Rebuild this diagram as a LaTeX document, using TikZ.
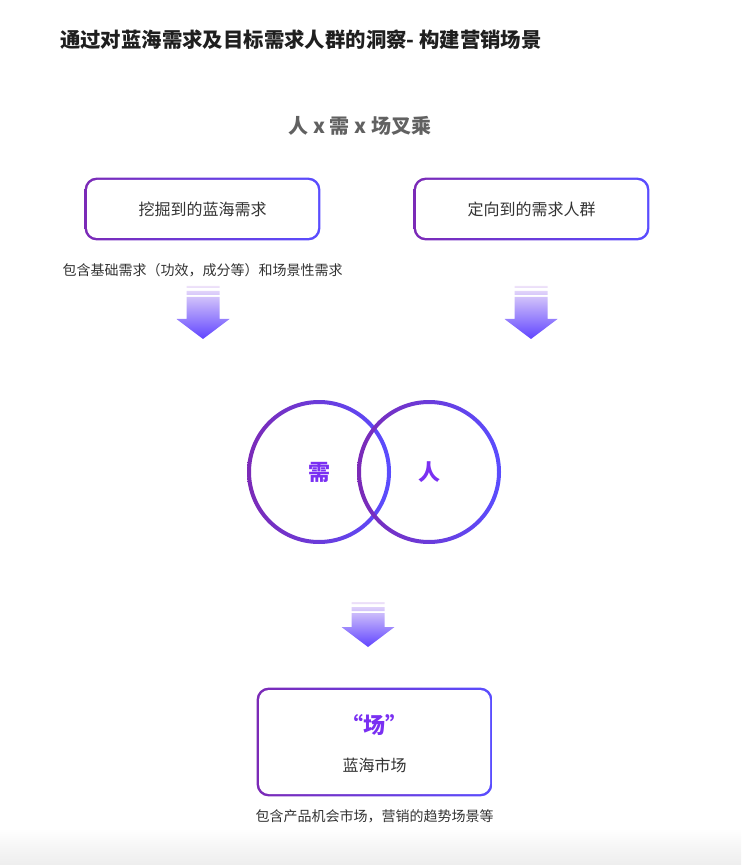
\documentclass[tikz,border=0pt]{standalone}
\usepackage{fontspec}
\setmainfont{Noto Sans CJK SC}
\usepackage{xcolor}
\usetikzlibrary{positioning,backgrounds,calc}

\definecolor{gpurple}{HTML}{7B2AB7}
\definecolor{gblue}{HTML}{5A4DFF}
\definecolor{vtext}{HTML}{7A30F2}
\definecolor{arrtop}{HTML}{EEE2F9}
\definecolor{arrbot}{HTML}{6044FF}

% block arrow: centre x, top y, head start y, tip y (pixels, downwards)
\newcommand{\dropblock}[4]{%
  \shade[top color=arrtop, bottom color=arrbot]
    (#1-16.5,-#2) rectangle (#1+16.5,-#2-2)
    (#1-16.5,-#2-5) rectangle (#1+16.5,-#2-9)
    (#1-16.5,-#2-11) -- (#1+16.5,-#2-11) -- (#1+16.5,-#3) -- (#1+26.5,-#3)
      -- (#1,-#4) -- (#1-26.5,-#3) -- (#1-16.5,-#3) -- cycle;
}

\begin{document}
\begin{tikzpicture}[x=0.5pt, y=0.5pt]
\tikzstyle{gbox} = [rectangle, fill=white, rounded corners=5pt, minimum width=115.5pt, minimum height=29pt, text=black!80, font=\fontsize{8}{10}\selectfont]
\tikzstyle{note} = [font=\fontsize{7}{9}\selectfont, text=black!80]
\tikzstyle{hub} = [circle, minimum size=68pt, text=vtext, font=\fontsize{11}{13}\selectfont\bfseries]
\tikzstyle{ring} = [left color=gpurple, right color=gblue, even odd rule]
\tikzstyle{frame} = [left color=gpurple, right color=gblue, rounded corners=6pt]

\useasboundingbox (0,0) rectangle (741,-865);
\shade[top color=white, bottom color=black!7] (0,-828) rectangle (741,-865);

\node [anchor=west, font=\fontsize{10.2}{12}\selectfont\bfseries, text=black!88] (title) at (53,-40) {通过对蓝海需求及目标需求人群的洞察- 构建营销场景};
\node [font=\fontsize{10}{12}\selectfont\bfseries, text=black!62] (formula) at (360,-126) {人 x 需 x 场叉乘};

\node [gbox] (dig) at (202.5,-209) {挖掘到的蓝海需求};
\node [gbox] (aim) at (531.5,-209) {定向到的需求人群};
\node [note, below=9pt of dig] (digNote) {包含基础需求（功效，成分等）和场景性需求};

\dropblock{203}{286}{319}{339}
\dropblock{531}{286}{319}{339}

\node [hub] (need) at (319,-472) {需};
\node [hub] (ppl) at (429,-472) {人};
\shade [ring] (need.center) circle (36pt) circle (34pt);
\shade [ring] (ppl.center) circle (36pt) circle (34pt);

\dropblock{368}{602}{627}{647}

\node [gbox, minimum height=52pt] (mkt) at (374.5,-742) {};
\node [font=\fontsize{11}{13}\selectfont\bfseries, text=vtext] (mktTag) at (374.5,-725) {“场”};
\node [font=\fontsize{8}{10}\selectfont, text=black!80] (mktName) at (374.5,-765) {蓝海市场};
\node [note, below=4pt of mkt] (mktNote) {包含产品机会市场，营销的趋势场景等};

% gradient frames behind the white boxes
\begin{scope}[on background layer]
\foreach \n in {dig,aim,mkt}
  \shade [frame] ($(\n.south west)+(-2,-2)$) rectangle ($(\n.north east)+(2,2)$);
\end{scope}
\end{tikzpicture}
\end{document}
